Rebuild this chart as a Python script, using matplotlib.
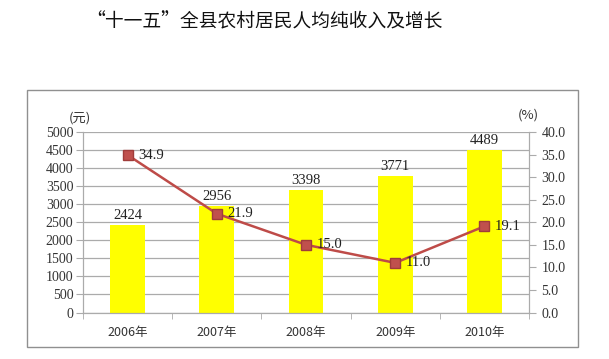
import matplotlib
matplotlib.use("Agg")
import matplotlib.pyplot as plt
from matplotlib.patches import Rectangle
import numpy as np

plt.rcParams['font.family'] = ['Noto Sans CJK SC', 'DejaVu Sans']

years = ["2006年", "2007年", "2008年", "2009年", "2010年"]
income = [2424, 2956, 3398, 3771, 4489]
growth = [34.9, 21.9, 15.0, 11.0, 19.1]

num_font = ['Liberation Serif', 'DejaVu Serif']
grid_c = "#ababab"

fig = plt.figure(figsize=(6.09, 3.59), dpi=100)
ax = fig.add_axes([83 / 609, 1 - 312.5 / 359, 446 / 609, 180.5 / 359])
ax2 = ax.twinx()

x = np.arange(len(years))
ax.bar(x, income, width=0.39, color="#ffff00", zorder=2)
for xi, v in zip(x, income):
    ax.text(xi, v + 90, str(v), ha="center", va="bottom", fontsize=10.5,
            family=num_font, color="#222222")

ax.set_xlim(-0.5, 4.5)
ax.set_ylim(0, 5000)
ax.set_yticks(np.arange(0, 5001, 500))
ax.set_yticklabels([str(t) for t in range(0, 5001, 500)], family=num_font, fontsize=10)
ax.yaxis.grid(True, color=grid_c, linewidth=0.9)
ax.set_axisbelow(True)
ax.set_xticks(x)
ax.set_xticklabels(years, fontsize=9, color="#333333")
ax.set_xticks(np.arange(-0.5, 5, 1), minor=True)
ax.tick_params(axis="x", which="major", length=0, pad=10)
ax.tick_params(axis="x", which="minor", length=4, color=grid_c)
ax.tick_params(axis="y", length=5, color=grid_c, pad=2, colors="#333333")
ax.spines["top"].set_visible(False)
ax2.spines["top"].set_visible(False)
for a in (ax, ax2):
    for s in ["left", "right", "bottom"]:
        a.spines[s].set_color(grid_c)

ax2.plot(x, growth, color="#be4b48", linewidth=1.8, marker="s", markersize=7,
         markerfacecolor="#c0504d", markeredgecolor="#a03c3a", zorder=3)
for xi, v in zip(x, growth):
    ax2.text(xi + 0.12, v, f"{v:.1f}", ha="left", va="center", fontsize=10.5,
             family=num_font, color="#222222")
ax2.set_ylim(0, 40)
ax2.set_yticks(np.arange(0, 41, 5))
ax2.set_yticklabels([f"{t:.1f}" for t in range(0, 41, 5)], family=num_font, fontsize=10)
ax2.tick_params(axis="y", length=5, color=grid_c, pad=4, colors="#333333")

fig.text(80 / 609, 1 - 118 / 359, "(元)", ha="center", va="center", fontsize=9.5, color="#333333")
fig.text(528 / 609, 1 - 115 / 359, "(%)", ha="center", va="center", fontsize=9.5, color="#333333")

fig.text(264 / 609, 1 - 22 / 359, "“十一五”全县农村居民人均纯收入及增长",
         ha="center", va="center", fontsize=13.5, color="#111111")

fig.patches.append(Rectangle((27 / 609, 1 - 347 / 359), 551 / 609, 257 / 359,
                             transform=fig.transFigure, fill=False,
                             edgecolor="#909090", linewidth=1.0))

fig.savefig("out.png", dpi=100)
